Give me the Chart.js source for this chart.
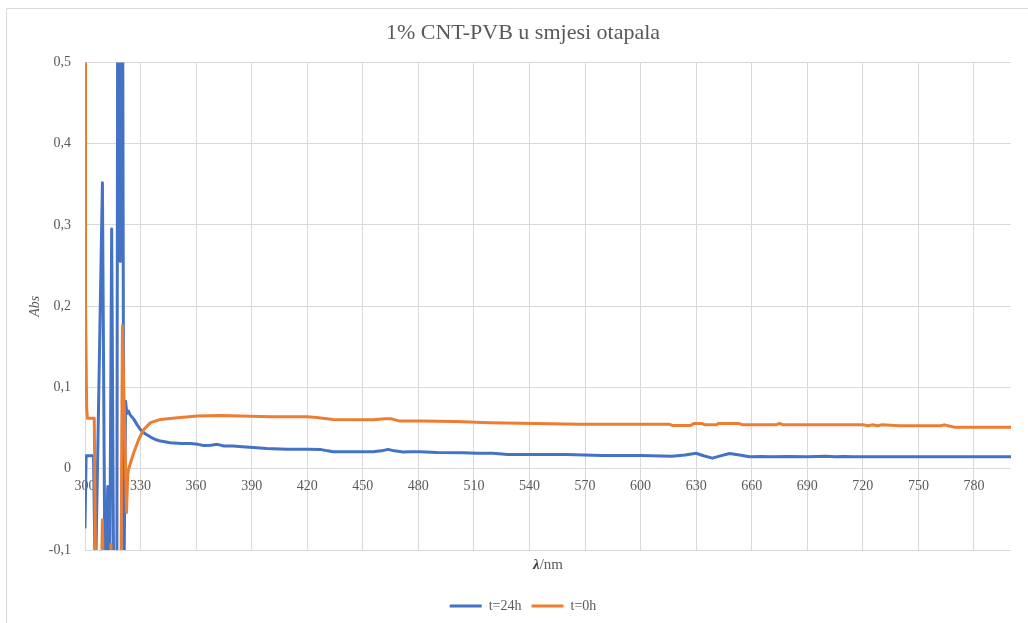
<!DOCTYPE html>
<html>
<head>
<meta charset="utf-8">
<script src="https://cdn.jsdelivr.net/npm/chart.js@4/dist/chart.umd.min.js"></script>
<style>
  html, body { margin: 0; padding: 0; background: #ffffff; }
  #wrap { width: 1028px; height: 623px; position: relative; }
</style>
</head>
<body>
<div id="wrap"><canvas id="c" width="1028" height="623"></canvas></div>
<script>
// ---- data ----
const chartTitle = '1% CNT-PVB u smjesi otapala';
const seriesNames = ['t=24h', 't=0h'];
const seriesColors = ['#4472C4', '#ED7D31'];

const xTickValues = [300, 330, 360, 390, 420, 450, 480, 510, 540, 570, 600, 630, 660, 690, 720, 750, 780];
const yTickValues = [-0.1, 0, 0.1, 0.2, 0.3, 0.4, 0.5];

const wl24 = [300.0, 300.6, 304.6, 305.6, 309.4, 310.8, 312.3, 313.3, 314.4, 315.5, 317.2, 318.0, 319.0, 319.8, 321.0, 321.9,
  322.6, 323.4, 324.5, 326.3, 328.2, 330, 332.5, 335.4, 338, 340.8, 346, 352, 357, 361, 364, 368, 371.5, 375,
  380, 385, 391, 398, 409, 420, 427, 431, 434, 445, 455.6, 460, 463.7, 467, 471.8, 476, 481, 490, 504, 512,
  520, 528.4, 540, 560, 579, 600, 617, 624, 630, 634, 638.8, 642.6, 648, 653.4, 658.8, 665, 670, 680, 690,
  700, 705, 710, 715, 800];
const abs24 = [-0.072, 0.016, 0.016, -0.15, 0.352, -0.15, -0.022, -0.15, 0.295, -0.15, -0.15, 1.2, 0.255, 1.2, -0.15, 0.083,
  0.068, 0.071, 0.066, 0.061, 0.054, 0.048, 0.043, 0.039, 0.036, 0.034, 0.032, 0.031, 0.031, 0.030, 0.0287, 0.029, 0.030, 0.028,
  0.028, 0.027, 0.026, 0.025, 0.024, 0.024, 0.0238, 0.022, 0.021, 0.021, 0.021, 0.022, 0.0238, 0.022, 0.0205, 0.021, 0.021, 0.020, 0.0197, 0.019,
  0.019, 0.0176, 0.0176, 0.0176, 0.0164, 0.0164, 0.0155, 0.017, 0.019, 0.016, 0.013, 0.0155, 0.0188, 0.017, 0.0148, 0.0152, 0.0148, 0.0152, 0.0148,
  0.0155, 0.0148, 0.0152, 0.0148, 0.0148];

const wl0 = [300.0, 300.3, 300.9, 301.3, 305.0, 305.8, 308.8, 309.4, 310.0, 313.5, 314.0, 314.6, 319.4, 320.2,
  322.4, 323.1, 323.6, 326.3, 329, 331.6, 335.4, 340.8, 350, 360.8, 373, 384, 400, 420, 425, 434, 455.6, 462,
  465, 470, 481, 500, 518.6, 543, 567, 615.7, 617, 627, 629, 633, 634.7, 641, 642, 653, 655, 673, 675, 677,
  720, 723, 725, 728, 730, 740, 762, 764, 766, 770, 800];
const abs0 = [0.52, 0.2, 0.075, 0.062, 0.062, -0.15, -0.15, -0.063, -0.15, -0.15, -0.093, -0.15, -0.15, 0.176,
  -0.054, -0.007, 0.0, 0.0197, 0.036, 0.048, 0.0567, 0.0607, 0.0628, 0.0648, 0.0656, 0.065, 0.064, 0.064, 0.063, 0.0607, 0.0603, 0.0616,
  0.0616, 0.0586, 0.0586, 0.058, 0.0567, 0.0558, 0.0546, 0.0546, 0.0533, 0.0533, 0.0558, 0.0558, 0.054, 0.054, 0.0558, 0.0558, 0.054, 0.054, 0.0558, 0.054,
  0.054, 0.0528, 0.054, 0.0528, 0.054, 0.0528, 0.0528, 0.054, 0.0528, 0.0509, 0.0509];

// ---- chart ----
const GRID = '#D9D9D9';
const TXT = '#595959';
const SERIF = '"Liberation Serif", "DejaVu Serif", serif';

const toPts = (xs, ys) => xs.map((x, i) => ({ x: x, y: ys[i] }));

const framePlugin = {
  id: 'frame',
  beforeDraw(chart) {
    const ctx = chart.ctx;
    ctx.save();
    ctx.fillStyle = '#ffffff';
    ctx.fillRect(0, 0, chart.width, chart.height);
    ctx.strokeStyle = GRID;
    ctx.lineWidth = 1;
    ctx.beginPath();
    ctx.moveTo(6.5, chart.height + 2);
    ctx.lineTo(6.5, 8.5);
    ctx.lineTo(chart.width + 2, 8.5);
    ctx.stroke();
    ctx.restore();
  }
};

const xTitlePlugin = {
  id: 'xTitle',
  afterDraw(chart) {
    const ctx = chart.ctx;
    const a = chart.chartArea;
    ctx.save();
    const f1 = 'italic bold 15px ' + SERIF;
    const f2 = '15px ' + SERIF;
    ctx.font = f1; const w1 = ctx.measureText('λ').width;
    ctx.font = f2; const w2 = ctx.measureText('/nm').width;
    let x = (a.left + a.right) / 2 - (w1 + w2) / 2;
    const y = a.bottom + 15;
    ctx.textBaseline = 'middle';
    ctx.textAlign = 'left';
    ctx.fillStyle = '#404040';
    ctx.font = f1; ctx.fillText('λ', x, y);
    ctx.fillStyle = TXT;
    ctx.font = f2; ctx.fillText('/nm', x + w1, y);
    ctx.restore();
  }
};

new Chart(document.getElementById('c'), {
  type: 'line',
  data: {
    datasets: [
      {
        label: seriesNames[0],
        data: toPts(wl24, abs24),
        borderColor: seriesColors[0],
        backgroundColor: seriesColors[0],
        order: 1,
        xAxisID: 'x', yAxisID: 'y'
      },
      {
        label: seriesNames[1],
        data: toPts(wl0, abs0),
        borderColor: seriesColors[1],
        backgroundColor: seriesColors[1],
        order: 0,
        xAxisID: 'x', yAxisID: 'y'
      }
    ]
  },
  options: {
    responsive: false,
    animation: false,
    devicePixelRatio: 1,
    layout: { padding: { left: 18, right: 0, top: 0, bottom: 0 } },
    datasets: {
      line: {
        borderWidth: 3, pointRadius: 0, tension: 0, clip: 0,
        borderJoinStyle: 'round', borderCapStyle: 'round'
      }
    },
    plugins: {
      title: {
        display: true, text: chartTitle, color: TXT,
        font: { family: SERIF, size: 22, weight: 'normal' },
        padding: { top: 20, bottom: 16 }
      },
      legend: {
        display: true, position: 'bottom',
        labels: {
          color: TXT, boxWidth: 32, boxHeight: 3, padding: 10,
          font: { family: SERIF, size: 14 },
          sort: (a, b) => a.datasetIndex - b.datasetIndex,
          generateLabels: (chart) => Chart.defaults.plugins.legend.labels.generateLabels(chart)
            .map(l => Object.assign(l, { lineWidth: 0 }))
        }
      },
      tooltip: { enabled: false }
    },
    scales: {
      x: {
        type: 'linear', position: { y: 0 }, min: 300, max: 800,
        afterBuildTicks: (s) => { s.ticks = xTickValues.map(v => ({ value: v })); },
        ticks: { color: TXT, font: { family: SERIF, size: 14 }, padding: 9, maxRotation: 0, autoSkip: false,
          callback: (v) => String(v) },
        grid: { color: GRID, lineWidth: 1, drawTicks: false },
        border: { display: false }
      },
      xb: {
        type: 'linear', position: 'bottom', display: true,
        ticks: { display: false }, grid: { display: false }, border: { display: false },
        afterFit: (s) => { s.height = 39; }
      },
      y: {
        type: 'linear', position: 'left', min: -0.1, max: 0.5,
        afterBuildTicks: (s) => { s.ticks = yTickValues.map(v => ({ value: v })); },
        afterFit: (s) => { s.width = 67; },
        ticks: { color: TXT, font: { family: SERIF, size: 14 }, padding: 14,
          callback: (v) => (Math.abs(v) < 1e-9 ? '0' : v.toFixed(1).replace('.', ',')) },
        grid: { color: GRID, lineWidth: 1, drawTicks: false },
        border: { display: false },
        title: { display: true, text: 'Abs', color: TXT,
          font: { family: SERIF, size: 14, style: 'italic' }, padding: { top: 9, bottom: 0 } }
      },
      yr: {
        type: 'linear', position: 'right', display: true,
        ticks: { display: false }, grid: { display: false }, border: { display: false },
        afterFit: (s) => { s.width = 17; }
      }
    }
  },
  plugins: [framePlugin, xTitlePlugin]
});
</script>
</body>
</html>
